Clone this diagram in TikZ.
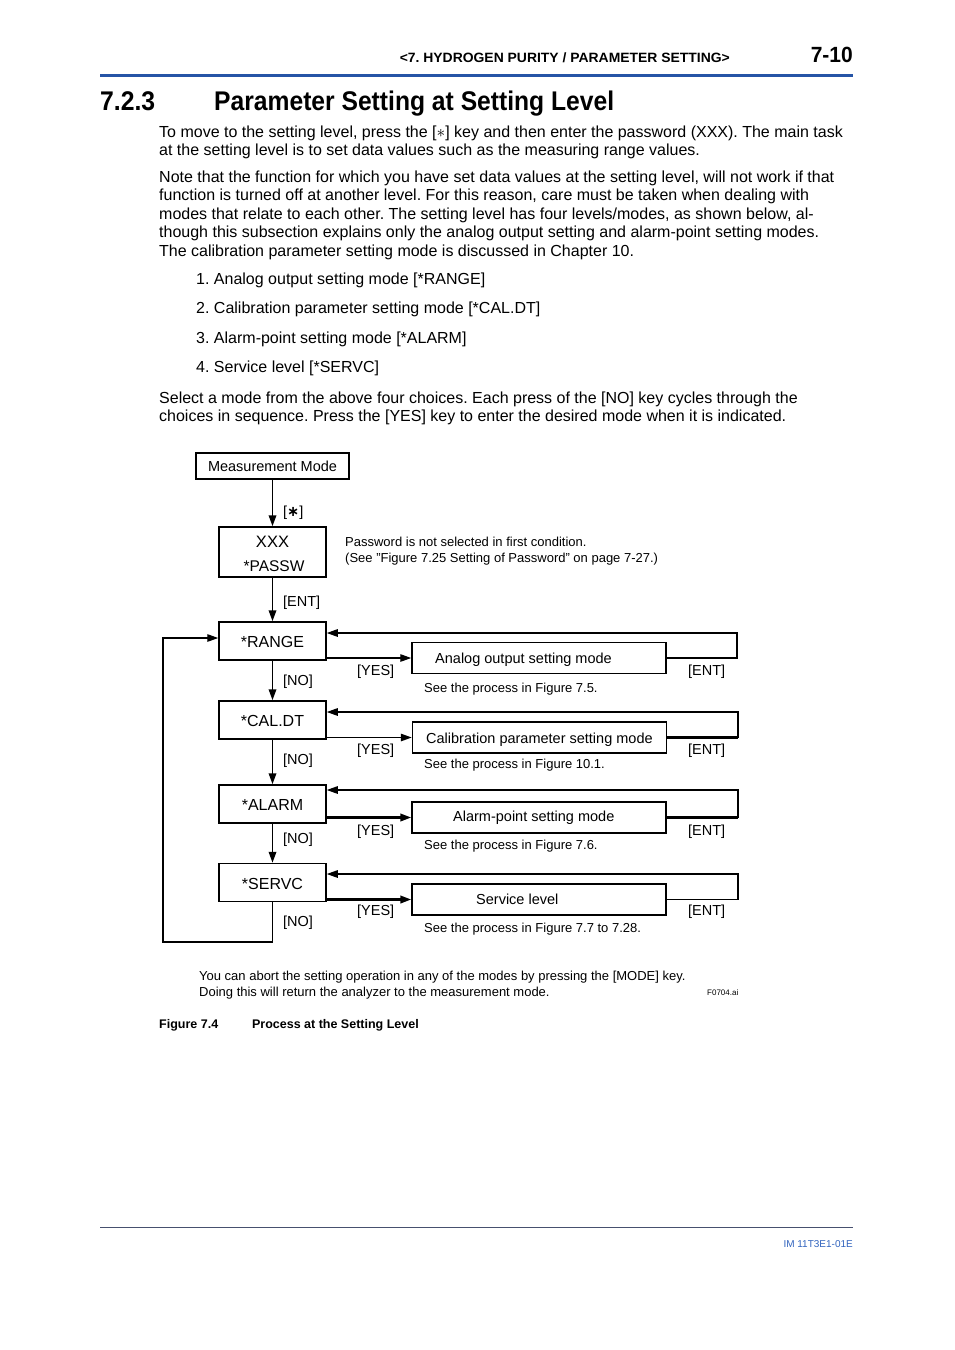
\documentclass[tikz,border=0pt]{standalone}
\usepackage{fontspec}
\usepackage{graphicx}
\setmainfont{Liberation Sans}
\newfontfamily\djv{DejaVu Sans}
\usetikzlibrary{arrows.meta}
\definecolor{hdrblue}{RGB}{38,84,166}
\definecolor{imblue}{RGB}{50,100,190}
\definecolor{rulegray}{RGB}{70,80,110}
\frenchspacing
\begin{document}
\begin{tikzpicture}[x=1pt,y=-1pt,
  body/.style={anchor=base west, inner sep=0pt, font=\fontsize{16}{18.5}\selectfont},
  dlab/.style={anchor=base west, inner sep=0pt, font=\fontsize{14.5}{17}\selectfont},
  small/.style={anchor=base west, inner sep=0pt, font=\fontsize{13}{15}\selectfont},
  statebox/.style={draw, line width=1.5pt, minimum width=107pt, minimum height=38pt, inner sep=0pt,
                   text height=13.5pt, text depth=0pt, font=\fontsize{16}{17}\selectfont},
  modebox/.style={draw, line width=1.5pt, minimum width=254pt, minimum height=31pt, inner sep=0pt},
  tip/.style={-{Triangle[length=11pt,width=7.5pt]}},
  flow/.style={line width=1.3pt, tip},
  thickflow/.style={line width=2.3pt, tip},
  downflow/.style={line width=1.8pt, tip},
  thickline/.style={line width=2.3pt}
]
\useasboundingbox (0,0) rectangle (954,1350);
\fill[white] (0,0) rectangle (954,1350);

% ---------- page header ----------
\node[anchor=base east, inner sep=0pt, font=\bfseries\fontsize{13.5}{15}\selectfont] (hdr) at (730,62)
  {\resizebox{330pt}{\height}{<7. HYDROGEN PURITY / PARAMETER SETTING>}};
\node[anchor=base east, inner sep=0pt, font=\bfseries\fontsize{22}{24}\selectfont] (pno) at (853,62.5)
  {\resizebox{42pt}{\height}{7-10}};
\draw[hdrblue, line width=3pt] (100,75) -- (853,75);

% ---------- heading ----------
\node[anchor=base west, inner sep=0pt, font=\bfseries\fontsize{27}{30}\selectfont] (secno) at (100,110)
  {\resizebox{55pt}{\height}{7.2.3}};
\node[anchor=base west, inner sep=0pt, font=\bfseries\fontsize{27}{30}\selectfont] (sectitle) at (214,110)
  {\resizebox{400pt}{\height}{Parameter Setting at Setting Level}};

% ---------- body text ----------
\node[body] (p1a) at (159,137) {To move to the setting level, press the [$\ast$] key and then enter the password (XXX). The main task};
\node[body] (p1b) at (159,155.5) {at the setting level is to set data values such as the measuring range values.};

\node[body] (p2a) at (159,182) {Note that the function for which you have set data values at the setting level, will not work if that};
\node[body] (p2b) at (159,200.5) {function is turned off at another level. For this reason, care must be taken when dealing with};
\node[body] (p2c) at (159,219) {modes that relate to each other. The setting level has four levels/modes, as shown below, al-};
\node[body] (p2d) at (159,237.5) {though this subsection explains only the analog output setting and alarm-point setting modes.};
\node[body] (p2e) at (159,256) {The calibration parameter setting mode is discussed in Chapter 10.};

\node[body] (l1) at (196,284) {1. Analog output setting mode [*RANGE]};
\node[body] (l2) at (196,313.5) {2. Calibration parameter setting mode [*CAL.DT]};
\node[body] (l3) at (196,343) {3. Alarm-point setting mode [*ALARM]};
\node[body] (l4) at (196,372.5) {4. Service level [*SERVC]};

\node[body] (p3a) at (159,403) {Select a mode from the above four choices. Each press of the [NO] key cycles through the};
\node[body] (p3b) at (159,421.5) {choices in sequence. Press the [YES] key to enter the desired mode when it is indicated.};

% ---------- diagram: state boxes ----------
\node[draw, line width=1.5pt, minimum width=153pt, minimum height=26pt, inner sep=0pt,
      font=\fontsize{14.5}{17}\selectfont] (mm) at (272.5,466) {Measurement Mode};
\node[draw, line width=1.5pt, minimum width=107pt, minimum height=50pt, inner sep=0pt] (passw) at (272.5,552) {};
\node[anchor=base, inner sep=0pt, font=\fontsize{16.5}{17}\selectfont] (xxx) at (272.5,547) {XXX};
\node[anchor=base, inner sep=0pt, font=\fontsize{15.5}{17}\selectfont] (pswt) at (274,571.5) {*PASSW};
\node[statebox] (range) at (272.5,641) {*RANGE};
\node[statebox] (caldt) at (272.5,720) {*CAL.DT};
\node[statebox] (alarm) at (272.5,804) {*ALARM};
\node[statebox] (servc) at (272.5,882.5) {*SERVC};

% mode boxes
\node[modebox] (m1) at (539,658) {};
\node[modebox] (m2) at (539.5,737.5) {};
\node[modebox] (m3) at (539,817.5) {};
\node[modebox] (m4) at (539,899.5) {};
\node[dlab] (m1t) at (435,663) {Analog output setting mode};
\node[dlab] (m2t) at (426,743) {Calibration parameter setting mode};
\node[dlab] (m3t) at (453,821.5) {Alarm-point setting mode};
\node[dlab] (m4t) at (476,904) {Service level};

% notes
\node[small] (pwn1) at (345,546.5) {Password is not selected in first condition.};
\node[small] (pwn2) at (345,562) {(See "Figure 7.25 Setting of Password" on page 7-27.)};
\node[small] (s1) at (424,692.5) {See the process in Figure 7.5.};
\node[small] (s2) at (424,768.5) {See the process in Figure 10.1.};
\node[small] (s3) at (424,849.5) {See the process in Figure 7.6.};
\node[small] (s4) at (424,932.5) {See the process in Figure 7.7 to 7.28.};

% ---------- vertical flow ----------
\draw[downflow] (mm) -- (passw);
\draw[downflow] (passw) -- (range);
\draw[downflow] (range) -- (caldt);
\draw[downflow] (caldt) -- (alarm);
\draw[downflow] (alarm) -- (servc);
\node[dlab] (lstar) at (283,516) {[{\djv\bfseries ∗}]};
\node[dlab] (lent) at (283,606) {[ENT]};
\node[dlab] (no1) at (283,685) {[NO]};
\node[dlab] (no2) at (283,764) {[NO]};
\node[dlab] (no3) at (283,843) {[NO]};
\node[dlab] (no4) at (283,926) {[NO]};

% loop back from SERVC to RANGE
\coordinate (loopc) at (163,942);
\draw[flow] (servc.south) |- (loopc) |- ([yshift=3pt]range.west);

% ---------- YES arrows ----------
\draw[flow] (range.east |- m1.west) -- (m1.west);
\draw[flow] (caldt.east |- m2.west) -- (m2.west);
\draw[thickflow] (alarm.east |- m3.west) -- (m3.west);
\draw[thickflow] (servc.east |- m4.west) -- (m4.west);
\node[dlab] (y1) at (357,675) {[YES]};
\node[dlab] (y2) at (357,754) {[YES]};
\node[dlab] (y3) at (357,835) {[YES]};
\node[dlab] (y4) at (357,915) {[YES]};

% ---------- ENT returns ----------
\coordinate (r1) at (737,633);
\coordinate (r2) at (738,712);
\coordinate (r3) at (738,790);
\coordinate (r4) at (738,874);
\draw[thickline] (m1.east) -- (m1.east -| r1);
\draw[thickline] (m2.east) -- (m2.east -| r2);
\draw[thickline] (m3.east) -- (m3.east -| r3);
\draw[flow] (m1.east) -| (r1) -- (range.east |- r1);
\draw[flow] (m2.east) -| (r2) -- (caldt.east |- r2);
\draw[flow] (m3.east) -| (r3) -- (alarm.east |- r3);
\draw[flow] (m4.east) -| (r4) -- (servc.east |- r4);
\node[dlab] (e1) at (688,675) {[ENT]};
\node[dlab] (e2) at (688,754) {[ENT]};
\node[dlab] (e3) at (688,835) {[ENT]};
\node[dlab] (e4) at (688,915) {[ENT]};

% ---------- bottom notes ----------
\node[small] (ab1) at (199,980) {You can abort the setting operation in any of the modes by pressing the [MODE] key.};
\node[small] (ab2) at (199,996) {Doing this will return the analyzer to the measurement mode.};
\node[anchor=base west, inner sep=0pt, font=\fontsize{8}{9}\selectfont] (fid) at (707,995) {F0704.ai};
\node[anchor=base west, inner sep=0pt, font=\bfseries\fontsize{12.5}{15}\selectfont] (cap1) at (159,1028.5) {Figure 7.4};
\node[anchor=base east, inner sep=0pt, font=\bfseries\fontsize{12.5}{15}\selectfont] (cap2) at (419,1028.5)
  {Process at the Setting Level};

% ---------- footer ----------
\draw[rulegray, line width=0.9pt] (100,1227) -- (853,1227);
\node[anchor=base east, inner sep=0pt, font=\fontsize{10}{11}\selectfont, text=imblue] (imno) at (853,1247.5) {IM 11T3E1-01E};
\end{tikzpicture}
\end{document}
